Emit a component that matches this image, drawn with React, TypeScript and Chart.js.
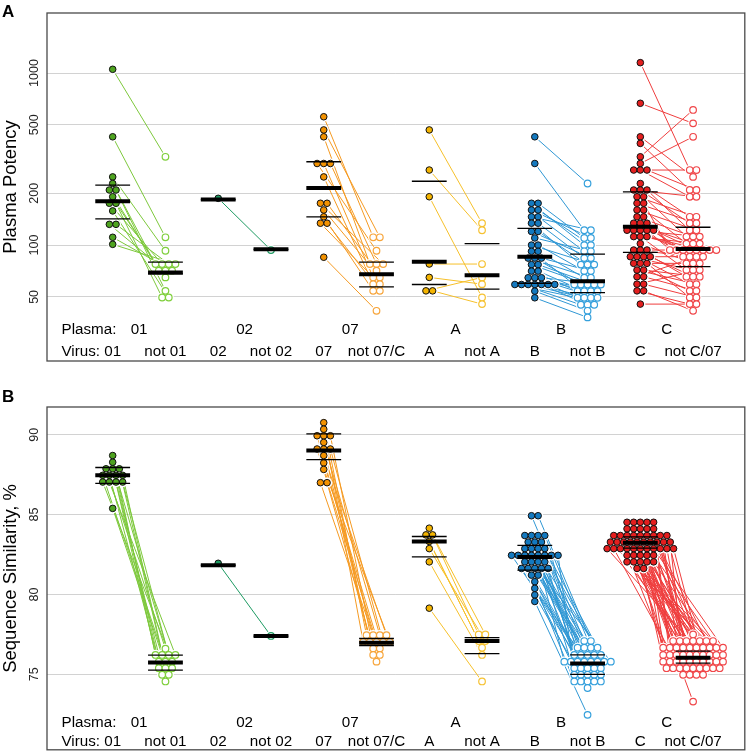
import React, { useEffect, useRef } from "react";
import { Chart, registerables } from "chart.js";

Chart.register(...registerables);

const FONT = '"Liberation Sans", Arial, sans-serif';

// ---------- categories / labels ----------
const virusLabels = ["01", "not 01", "02", "not 02", "07", "not 07/C", "A", "not A", "B", "not B", "C", "not C/07"];
const plasmaLabels = ["01", "02", "07", "A", "B", "C"];

// ---------- colours per plasma group ----------
const matchFill = ["#4ea31f", "#1d9a62", "#f39200", "#f4b400", "#1479bf", "#e41e1e"];
const otherStroke = ["#7fcf3c", "#1d9a62", "#f7a53b", "#f6c232", "#35a0dc", "#f0474a"];
const pairLine = ["#7dc83c", "#1d9a62", "#f59a22", "#f6c02a", "#2f97d4", "#ef3d3d"];

// ---------- Panel A: plasma potency (paired by index) ----------
const potency01Match = [1051, 426, 249, 228, 209, 209, 191, 175, 175, 158, 132, 132, 111, 101];
const potency01Other = [326, 111, 92.7, 71, 77.6, 54.2, 49.6, 77.6, 64.9, 49.6, 71, 77.6, 71, 77.6];
const potency02Match = [187];
const potency02Other = [93.5];
const potency07Match = [557, 467, 426, 298, 298, 298, 249, 175, 175, 160, 146, 134, 134, 85];
const potency07Other = [111, 111, 77.6, 92.7, 64.9, 77.6, 59.3, 77.6, 71, 64.9, 54.2, 59.3, 54.2, 41.5];
const potencyAMatch = [467, 273, 191, 77.6, 64.9, 54.2, 54.2];
const potencyAOther = [134, 122, 49.6, 77.6, 59.3, 64.9, 45.4];
const potencyBMatch = [426, 298, 175, 175, 160, 160, 146, 146, 134, 134, 120, 120, 110, 100, 100, 92, 92, 84, 84, 84, 77, 77, 70.6, 70.6, 64.6, 64.6, 64.6, 59, 59, 59, 59, 59, 59, 59, 54, 49.4];
const potencyBOther = [228, 122, 100, 110, 110, 100, 122, 92, 77, 84, 84, 77, 92, 77, 70.6, 59, 64.6, 64.6, 59, 70.6, 59, 59, 54, 54, 54, 54, 59, 49.4, 45, 49.4, 49.4, 45, 45, 49.4, 41.5, 38];
const potencyCMatch = [1149, 667, 426, 390, 326, 298, 273, 273, 273, 228, 209, 209, 209, 191, 191, 175, 175, 160, 160, 146, 146, 134, 134, 134, 122, 122, 122, 122, 122, 112, 112, 112, 102, 93.6, 93.6, 93.6, 85.6, 85.6, 85.6, 85.6, 78.3, 78.3, 78.3, 71.6, 71.6, 65.5, 65.5, 59.3, 59.3, 54.2, 54.2, 45.4];
const potencyCOther = [273, 510, 249, 209, 610, 426, 273, 191, 209, 146, 191, 134, 122, 146, 112, 134, 93.6, 122, 102, 112, 93.6, 102, 93.6, 85.6, 93.6, 112, 85.6, 78.3, 93.6, 102, 71.6, 93.6, 78.3, 85.6, 65.5, 93.6, 71.6, 59.3, 85.6, 65.5, 54.2, 78.3, 49.6, 59.3, 65.5, 93.6, 54.2, 71.6, 49.6, 45.4, 41.5, 45.4];

// summary lines (per virus column): median, lower quartile, upper quartile
const potencyMedian = [180, 69.3, 184, 94.5, 215, 67.6, 80, 66.7, 85.6, 61.7, 128, 95];
const potencyQ1 = [142, 68, 184, 94.5, 146, 57.1, 59, 55.4, 60, 53, 90.8, 75];
const potencyQ3 = [223, 79.6, 184, 94.5, 305, 79.6, 235, 102, 125, 88.7, 204, 127];
const potencyTicks = [50, 100, 200, 500, 1000];

// ---------- Panel B: sequence similarity (paired by index) ----------
const sim01Match = [88.7, 88.28, 87.87, 87.87, 87.87, 87.46, 87.46, 87.46, 87.46, 87.04, 87.04, 87.04, 87.04, 85.39];
const sim01Other = [76.21, 75.79, 76.6, 75.38, 76.21, 75.79, 74.97, 76.21, 75.38, 75.79, 76.21, 74.55, 75.38, 74.97];
const sim02Match = [81.95];
const sim02Other = [77.4];
const sim07Match = [90.76, 90.35, 89.94, 89.94, 89.94, 89.52, 89.11, 89.11, 89.11, 88.7, 88.24, 87.83, 87.0, 87.0];
const sim07Other = [77.45, 77.03, 77.45, 77.03, 76.62, 77.45, 77.03, 76.21, 77.03, 77.45, 76.62, 77.03, 76.21, 75.79];
const simAMatch = [84.15, 83.73, 83.73, 83.32, 82.87, 82.04, 79.14];
const simAOther = [77.49, 77.08, 77.49, 76.66, 77.08, 76.21, 74.55];
const simBMatch = [84.93, 84.93, 83.69, 83.69, 83.69, 83.69, 83.28, 83.28, 83.28, 82.87, 82.87, 82.87, 82.87, 82.45, 82.45, 82.45, 82.45, 82.45, 82.45, 82.45, 82.45, 82.04, 82.04, 82.04, 82.04, 81.63, 81.63, 81.63, 81.63, 81.63, 81.21, 81.21, 80.8, 80.38, 79.97, 79.56];
const simBOther = [77.08, 77.08, 76.66, 75.79, 76.66, 76.66, 76.21, 75.79, 76.21, 76.21, 76.21, 75.79, 76.66, 75.79, 75.38, 75.79, 75.79, 76.21, 75.79, 75.38, 74.97, 75.38, 75.79, 75.38, 74.97, 74.97, 74.55, 75.38, 74.97, 74.55, 74.55, 74.97, 74.55, 74.55, 74.14, 72.46];
const simCMatch = [84.52, 84.52, 84.52, 84.52, 84.52, 84.11, 84.11, 84.11, 84.11, 84.11, 83.69, 83.69, 83.69, 83.69, 83.69, 83.69, 83.69, 83.69, 83.69, 83.28, 83.28, 83.28, 83.28, 83.28, 83.28, 83.28, 83.28, 83.28, 83.28, 82.87, 82.87, 82.87, 82.87, 82.87, 82.87, 82.87, 82.87, 82.87, 82.87, 82.87, 82.45, 82.45, 82.45, 82.45, 82.45, 82.04, 82.04, 82.04, 82.04, 82.04, 81.63, 81.63];
const simCOther = [76.66, 77.08, 76.21, 77.49, 76.66, 77.08, 75.79, 76.66, 77.08, 76.21, 76.66, 75.79, 77.08, 76.21, 76.66, 75.38, 77.08, 76.21, 76.66, 77.08, 77.08, 76.21, 75.38, 76.66, 75.79, 76.21, 76.66, 75.38, 75.79, 76.21, 74.97, 76.66, 75.79, 75.38, 76.21, 75.79, 76.66, 75.38, 74.97, 75.79, 76.21, 75.38, 75.79, 74.97, 76.21, 75.38, 75.79, 75.38, 74.97, 75.79, 75.38, 73.29];

const simMedian = [87.46, 75.73, 81.83, 77.39, 89.01, 76.97, 83.32, 77.08, 82.35, 75.67, 83.24, 76.04];
const simQ1 = [86.96, 75.26, 81.83, 77.39, 88.45, 76.79, 82.35, 76.29, 81.52, 75.0, 82.9, 75.7];
const simQ3 = [87.95, 76.2, 81.83, 77.39, 90.06, 77.24, 83.63, 77.3, 83.07, 76.21, 83.6, 76.45];
const similarityTicks = [75, 80, 85, 90];

// ---------- helpers ----------
const SWARM_DX = 0.126; // horizontal spacing of points in a row (x-units)
const HALF = 0.33; // half width of the summary bars (x-units)
const R = 3.3;

function swarmX(values: number[], center: number): number[] {
  const rows = new Map<number, number[]>();
  values.forEach((v, i) => {
    if (!rows.has(v)) rows.set(v, []);
    rows.get(v)!.push(i);
  });
  const xs = new Array(values.length).fill(center);
  rows.forEach((idx) => {
    const n = idx.length;
    idx.forEach((i, j) => {
      xs[i] = center + (j - (n - 1) / 2) * SWARM_DX;
    });
  });
  return xs;
}

function buildDatasets(match: number[][], other: number[][], med: number[], q1: number[], q3: number[]) {
  const ds: any[] = [];
  const medData: any[] = [];
  const qData: any[] = [];
  for (let c = 0; c < 12; c++) {
    const x = c + 1;
    medData.push({ x: x - HALF, y: med[c] }, { x: x + HALF, y: med[c] }, { x, y: null });
    qData.push({ x: x - HALF, y: q1[c] }, { x: x + HALF, y: q1[c] }, { x, y: null });
    qData.push({ x: x - HALF, y: q3[c] }, { x: x + HALF, y: q3[c] }, { x, y: null });
  }
  ds.push({ data: medData, showLine: true, borderColor: "#000", borderWidth: 4, pointRadius: 0, order: 0 });
  ds.push({ data: qData, showLine: true, borderColor: "#000", borderWidth: 1.3, pointRadius: 0, order: 0 });

  match.forEach((m, g) => {
    const o = other[g];
    const xm = swarmX(m, 2 * g + 1);
    const xo = swarmX(o, 2 * g + 2);
    const pm = m.map((v, i) => ({ x: xm[i], y: v }));
    const po = o.map((v, i) => ({ x: xo[i], y: v }));
    const lines: any[] = [];
    m.forEach((v, i) => {
      lines.push({ x: xm[i], y: v }, { x: xo[i], y: o[i] }, { x: xo[i], y: null });
    });
    ds.push({
      data: pm, pointRadius: R, pointBorderWidth: 1, backgroundColor: matchFill[g], borderColor: "#111",
      pointBackgroundColor: matchFill[g], pointBorderColor: "#111", order: 1,
    });
    ds.push({
      data: po, pointRadius: R, pointBorderWidth: 1.2, backgroundColor: "#fff", borderColor: otherStroke[g],
      pointBackgroundColor: "#fff", pointBorderColor: otherStroke[g], order: 1,
    });
    ds.push({ data: pm, pointRadius: R + 1.8, pointBorderWidth: 0, pointBackgroundColor: "#fff", backgroundColor: "#fff", borderColor: "#fff", order: 2 });
    ds.push({ data: po, pointRadius: R + 1.8, pointBorderWidth: 0, pointBackgroundColor: "#fff", backgroundColor: "#fff", borderColor: "#fff", order: 2 });
    ds.push({ data: lines, showLine: true, borderColor: pairLine[g], borderWidth: 1, pointRadius: 0, order: 3 });
  });
  return ds;
}

type PanelSpec = {
  letter: string;
  letterY: number;
  title: string;
  log: boolean;
  min: number;
  max: number;
  ticks: number[];
  top: number;
  height: number;
  padTop: number;
  padBottom: number;
  plasmaDy: number;
  virusDy: number;
  match: number[][];
  other: number[][];
  med: number[];
  q1: number[];
  q3: number[];
};

function overlay(spec: PanelSpec) {
  return {
    id: "overlay" + spec.letter,
    afterDraw(chart: any) {
      const ctx = chart.ctx as CanvasRenderingContext2D;
      const a = chart.chartArea;
      const xs = chart.scales.x;
      const ys = chart.scales.y;
      ctx.save();
      ctx.strokeStyle = "#4a4a4a";
      ctx.lineWidth = 1.3;
      ctx.strokeRect(a.left, a.top, a.right - a.left, a.bottom - a.top);

      ctx.fillStyle = "#222";
      ctx.font = `12.5px ${FONT}`;
      ctx.textAlign = "center";
      ctx.textBaseline = "middle";
      spec.ticks.forEach((t) => {
        const y = ys.getPixelForValue(t);
        ctx.save();
        ctx.translate(34.5, y);
        ctx.rotate(-Math.PI / 2);
        ctx.fillText(String(t), 0, 0);
        ctx.restore();
      });

      ctx.fillStyle = "#000";
      ctx.font = `18.5px ${FONT}`;
      ctx.save();
      ctx.translate(11, (a.top + a.bottom) / 2);
      ctx.rotate(-Math.PI / 2);
      ctx.fillText(spec.title, 0, 0);
      ctx.restore();

      ctx.font = `bold 17px ${FONT}`;
      ctx.textAlign = "left";
      ctx.textBaseline = "alphabetic";
      ctx.fillText(spec.letter, 2, spec.letterY);

      ctx.font = `15.2px ${FONT}`;
      ctx.fillText("Plasma:", a.left + 14.5, a.bottom - spec.plasmaDy);
      ctx.fillText("Virus:", a.left + 14.5, a.bottom - spec.virusDy);
      ctx.textAlign = "center";
      plasmaLabels.forEach((p, i) => ctx.fillText(p, xs.getPixelForValue(2 * i + 1.5), a.bottom - spec.plasmaDy));
      virusLabels.forEach((v, i) => ctx.fillText(v, xs.getPixelForValue(i + 1), a.bottom - spec.virusDy));
      ctx.restore();
    },
  };
}

function Panel({ spec }: { spec: PanelSpec }) {
  const ref = useRef<HTMLCanvasElement>(null);
  useEffect(() => {
    const chart = new Chart(ref.current!, {
      type: "scatter",
      data: { datasets: buildDatasets(spec.match, spec.other, spec.med, spec.q1, spec.q3) },
      options: {
        responsive: false,
        animation: false,
        events: [],
        layout: { padding: { top: spec.padTop, bottom: spec.padBottom, left: 0, right: 2 } },
        plugins: { legend: { display: false }, tooltip: { enabled: false }, title: { display: false } },
        scales: {
          x: { type: "linear", display: false, min: -0.245, max: 12.98 },
          y: {
            type: spec.log ? "logarithmic" : "linear",
            min: spec.min,
            max: spec.max,
            afterFit: (s: any) => {
              s.width = 47;
            },
            afterBuildTicks: (s: any) => {
              s.ticks = spec.ticks.map((v) => ({ value: v }));
            },
            ticks: { display: false },
            grid: { color: "#d2d2d2", lineWidth: 1, drawTicks: false },
            border: { display: false },
          },
        },
      } as any,
      plugins: [overlay(spec)],
    });
    return () => chart.destroy();
  }, []);
  return (
    <canvas
      ref={ref}
      width={750}
      height={spec.height}
      style={{ position: "absolute", left: 0, top: spec.top, width: 750, height: spec.height, display: "block" }}
    />
  );
}

const panelA: PanelSpec = {
  letter: "A", letterY: 17, title: "Plasma Potency", log: true, min: 21.2, max: 2233, ticks: potencyTicks,
  top: 0, height: 375, padTop: 13, padBottom: 14, plasmaDy: 27, virusDy: 5,
  match: [potency01Match, potency02Match, potency07Match, potencyAMatch, potencyBMatch, potencyCMatch],
  other: [potency01Other, potency02Other, potency07Other, potencyAOther, potencyBOther, potencyCOther],
  med: potencyMedian, q1: potencyQ1, q3: potencyQ3,
};

const panelB: PanelSpec = {
  letter: "B", letterY: 27, title: "Sequence Similarity, %", log: false, min: 70.27, max: 91.74, ticks: similarityTicks,
  top: 375, height: 380, padTop: 32, padBottom: 2, plasmaDy: 23, virusDy: 4,
  match: [sim01Match, sim02Match, sim07Match, simAMatch, simBMatch, simCMatch],
  other: [sim01Other, sim02Other, sim07Other, simAOther, simBOther, simCOther],
  med: simMedian, q1: simQ1, q3: simQ3,
};

export default function App() {
  return (
    <div style={{ position: "absolute", left: 0, top: 0, width: 750, height: 755, background: "#fff" }}>
      <Panel spec={panelA} />
      <Panel spec={panelB} />
    </div>
  );
}
